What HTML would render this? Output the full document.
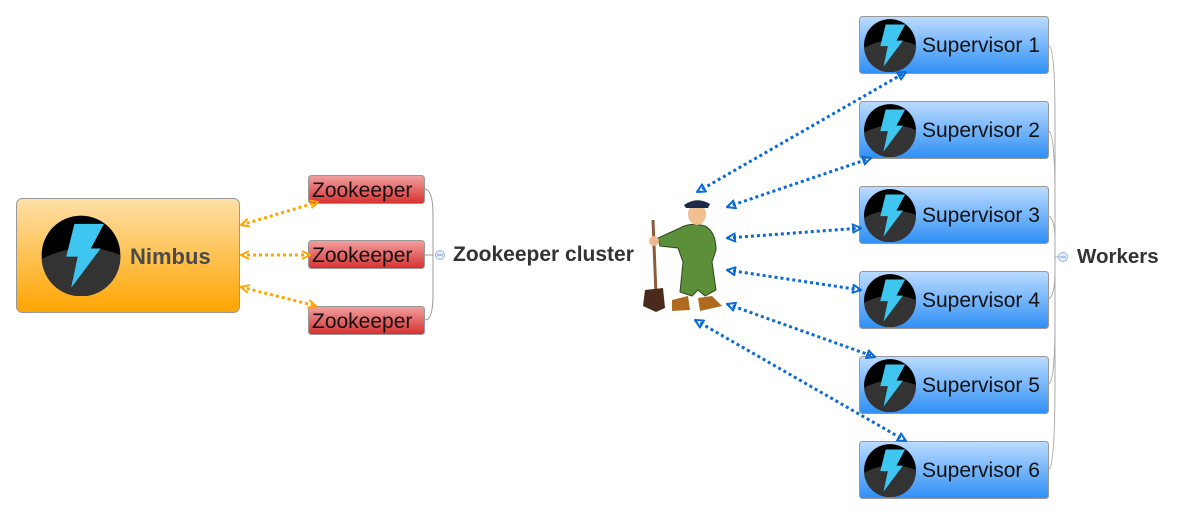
<!DOCTYPE html>
<html><head><meta charset="utf-8"><style>
html,body{margin:0;padding:0;background:#fff;width:1185px;height:515px;overflow:hidden}
text{font-family:"Liberation Sans","DejaVu Sans",sans-serif}
</style></head><body>
<svg width="1185" height="515" viewBox="0 0 1185 515" xmlns="http://www.w3.org/2000/svg">
<defs>
<linearGradient id="go" x1="0" y1="0" x2="0" y2="1"><stop offset="0" stop-color="#fee0a8"/><stop offset="1" stop-color="#ffa500"/></linearGradient>
<linearGradient id="gr" x1="0" y1="0" x2="0" y2="1"><stop offset="0" stop-color="#f2a0a0"/><stop offset="1" stop-color="#d83030"/></linearGradient>
<linearGradient id="gb" x1="0" y1="0" x2="0" y2="1"><stop offset="0" stop-color="#bcdcff"/><stop offset="1" stop-color="#2e8ff5"/></linearGradient>
<symbol id="ic" viewBox="-50 -50 100 100">
<circle r="48" fill="#000"/>
<path d="M-48,5 Q0,-20 48,0 A48,48 0 0 1 -48,5Z" fill="#333"/>
<path d="M-8,-38 L28,-38 L12,-8 L24,-8 L-12,40 L-4,2 L-18,2 Z" fill="#3ec6f0"/>
</symbol>
<marker id="ao" viewBox="0 0 10 10" refX="9" refY="5" markerWidth="10" markerHeight="10" markerUnits="userSpaceOnUse" orient="auto-start-reverse"><path d="M1,1 L9,5 L1,9" fill="none" stroke="#ffa500" stroke-width="2"/></marker>
<marker id="ab" viewBox="0 0 10 10" refX="9" refY="5" markerWidth="10" markerHeight="10" markerUnits="userSpaceOnUse" orient="auto-start-reverse"><path d="M1,1 L9,5 L1,9 Z" fill="none" stroke="#0a6ad8" stroke-width="2"/></marker>
</defs>

<rect x="16.5" y="198.5" width="223" height="114" rx="6" fill="url(#go)" stroke="#999"/>
<use href="#ic" x="40" y="214" width="82" height="82"/>
<text x="130" y="264" font-size="22" font-weight="bold" fill="#4a4a4a">Nimbus</text>

<g font-size="21" fill="#111">
<rect x="308.5" y="175.5" width="116" height="28" rx="3" fill="url(#gr)" stroke="#999"/>
<text x="312" y="197">Zookeeper</text>
<rect x="308.5" y="240.5" width="116" height="28" rx="3" fill="url(#gr)" stroke="#999"/>
<text x="312" y="262">Zookeeper</text>
<rect x="308.5" y="306.5" width="116" height="28" rx="3" fill="url(#gr)" stroke="#999"/>
<text x="312" y="328">Zookeeper</text>
</g>
<path d="M425,189 Q433,190 433,215 L433,295 Q433,320 425,320 M425,255 L433,255" fill="none" stroke="#999"/>
<circle cx="440" cy="255" r="4.5" fill="#e4eefc" stroke="#9ab8e6"/>
<line x1="437" y1="255" x2="443" y2="255" stroke="#7a9ad6"/>
<text x="453" y="261" font-size="21" font-weight="bold" fill="#333">Zookeeper cluster</text>

<g stroke="#ffa500" stroke-width="3" stroke-dasharray="3,3" fill="none" marker-start="url(#ao)" marker-end="url(#ao)">
<line x1="241" y1="225" x2="318" y2="202"/>
<line x1="241" y1="255" x2="310" y2="255"/>
<line x1="241" y1="287" x2="316" y2="306"/>
</g>

<g font-size="21" fill="#111">
<g transform="translate(0,0)"><rect x="859.5" y="16.5" width="189" height="57" rx="3" fill="url(#gb)" stroke="#999"/><use href="#ic" x="863" y="18" width="54" height="54"/><text x="922" y="52">Supervisor 1</text></g>
<g transform="translate(0,85)"><rect x="859.5" y="16.5" width="189" height="57" rx="3" fill="url(#gb)" stroke="#999"/><use href="#ic" x="863" y="18" width="54" height="54"/><text x="922" y="52">Supervisor 2</text></g>
<g transform="translate(0,170)"><rect x="859.5" y="16.5" width="189" height="57" rx="3" fill="url(#gb)" stroke="#999"/><use href="#ic" x="863" y="18" width="54" height="54"/><text x="922" y="52">Supervisor 3</text></g>
<g transform="translate(0,255)"><rect x="859.5" y="16.5" width="189" height="57" rx="3" fill="url(#gb)" stroke="#999"/><use href="#ic" x="863" y="18" width="54" height="54"/><text x="922" y="52">Supervisor 4</text></g>
<g transform="translate(0,340)"><rect x="859.5" y="16.5" width="189" height="57" rx="3" fill="url(#gb)" stroke="#999"/><use href="#ic" x="863" y="18" width="54" height="54"/><text x="922" y="52">Supervisor 5</text></g>
<g transform="translate(0,425)"><rect x="859.5" y="16.5" width="189" height="57" rx="3" fill="url(#gb)" stroke="#999"/><use href="#ic" x="863" y="18" width="54" height="54"/><text x="922" y="52">Supervisor 6</text></g>
</g>
<g fill="none" stroke="#aaa">
<path d="M1049,46 Q1055,48 1055,120 L1055,257"/>
<path d="M1049,131 Q1055,135 1055,200"/>
<path d="M1049,216 Q1055,220 1055,240"/>
<path d="M1049,299 Q1055,295 1055,270"/>
<path d="M1049,384 Q1055,380 1055,320"/>
<path d="M1049,469 Q1055,465 1055,380 L1055,257 L1058,257"/>
</g>
<circle cx="1063" cy="257" r="4.5" fill="#e4eefc" stroke="#9ab8e6"/>
<line x1="1060" y1="257" x2="1066" y2="257" stroke="#7a9ad6"/>
<text x="1077" y="263" font-size="20.5" font-weight="bold" fill="#333">Workers</text>

<g stroke="#0a6ad8" stroke-width="3" stroke-dasharray="3,3" fill="none" marker-start="url(#ab)" marker-end="url(#ab)">
<line x1="697" y1="192" x2="906" y2="72"/>
<line x1="727" y1="207" x2="871" y2="158"/>
<line x1="727" y1="238" x2="861" y2="228"/>
<line x1="727" y1="270" x2="861" y2="290"/>
<line x1="727" y1="304" x2="875" y2="357"/>
<line x1="695" y1="320" x2="906" y2="441"/>
</g>

<g>
<line x1="653" y1="220" x2="656" y2="295" stroke="#8a5a3a" stroke-width="3"/>
<path d="M645,290 L663,288 L665,308 L656,312 L643,306Z" fill="#4a2a1a"/>
<path d="M680,228 Q690,222 705,226 Q716,232 716,250 L712,262 L716,290 L705,296 L698,290 L692,296 L680,292 L683,262 L678,248 L660,246 L658,238 Z" fill="#5c8f3a" stroke="#2f4a1c" stroke-width="1"/>
<circle cx="654" cy="241" r="5" fill="#f0b890"/>
<ellipse cx="697" cy="214" rx="9" ry="11" fill="#f0c090"/>
<path d="M684,205 Q697,196 710,204 L708,208 L686,208Z" fill="#1c2a4a"/>
<path d="M672,300 L688,296 L690,310 L672,311Z" fill="#b06a20"/>
<path d="M698,298 L712,296 L722,306 L700,311Z" fill="#b06a20"/>
</g>
</svg>
</body></html>
